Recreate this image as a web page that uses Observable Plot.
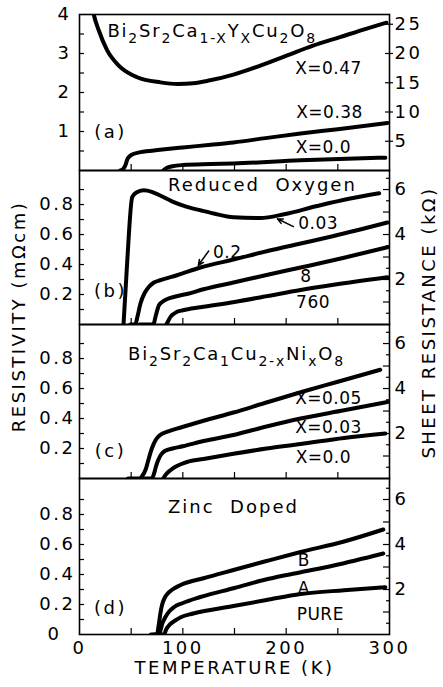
<!DOCTYPE html>
<html><head><meta charset="utf-8">
<script src="https://cdn.jsdelivr.net/npm/d3@7"></script>
<script src="https://cdn.jsdelivr.net/npm/@observablehq/plot@0.6"></script>
<style>
body{margin:0;background:#fff;}
#fig{position:relative;width:443px;height:687px;}
#fig svg{position:absolute;left:0;}
</style></head><body><div id="fig"></div>
<script>
// ---------------- data ----------------
const K = 1 / 0.15; // kΩ sheet resistance per mΩcm resistivity
const temperatureTickLabels = [0, 100, 200, 300];
const temperatureMinorTicks = [50, 100, 150, 200, 250];
const aLeftTicks = [0.5, 1, 1.5, 2, 2.5, 3, 3.5];
const aLeftTickLabels = [1, 2, 3, 4];
const aRightTickLabels = [5, 10, 15, 20, 25];
const leftTicks = [0.1, 0.2, 0.3, 0.4, 0.5, 0.6, 0.7, 0.8, 0.9];
const leftTickLabels = [0.2, 0.4, 0.6, 0.8];
const rightMinorTicks = [0.5, 1.5, 2.5, 3.5, 4.5, 5.5, 6.5];
const rightMajorTicks = [1, 2, 3, 4, 5, 6];
const rightTickLabels = [2, 4, 6];

// (a) Bi2Sr2Ca1-xYxCu2O8
const aNames = ["X=0.47", "X=0.38", "X=0.0"];
const aT047 = [11, 13.8, 18.7, 26.8, 38, 55.8, 78.4, 95, 110, 124, 149, 175, 201, 226, 252, 278, 297];
const aR047 = [4.4, 4.0, 3.59, 3.08, 2.69, 2.39, 2.26, 2.22, 2.24, 2.3, 2.46, 2.69, 2.95, 3.2, 3.42, 3.64, 3.79];
const aT038 = [39.5, 42, 44.5, 46.5, 51, 59, 78, 100, 127, 149, 180, 214, 250, 298];
const aR038 = [0, 0.03, 0.14, 0.3, 0.41, 0.47, 0.53, 0.59, 0.66, 0.72, 0.83, 0.95, 1.06, 1.22];
const aT000 = [81, 84, 90, 100, 127, 149, 214, 296];
const aR000 = [0, 0.06, 0.11, 0.14, 0.165, 0.18, 0.26, 0.33];

// (b) reduced oxygen
const bNames = ["0.03", "0.2", "8", "760"];
const bT003 = [42.6, 46, 51, 55, 62, 70, 78, 90, 104, 118, 130, 149, 175, 198, 230, 262, 290];
const bR003 = [0, 0.4, 0.85, 0.88, 0.895, 0.885, 0.86, 0.82, 0.785, 0.76, 0.74, 0.715, 0.71, 0.735, 0.79, 0.84, 0.875];
const bT02 = [49, 54, 56, 59, 63, 67, 72, 78, 95, 117, 150, 182, 214, 246, 298];
const bR02 = [0, 0, 0.05, 0.14, 0.21, 0.25, 0.28, 0.295, 0.33, 0.38, 0.435, 0.49, 0.54, 0.59, 0.68];
const bT8 = [58, 71.5, 73.5, 76.8, 80, 85, 92, 105, 120, 149, 181, 214, 256, 298];
const bR8 = [0, 0, 0.05, 0.127, 0.15, 0.17, 0.185, 0.205, 0.235, 0.28, 0.33, 0.38, 0.445, 0.515];
const bT760 = [84, 86, 88, 91, 94.5, 100, 117, 150, 182, 214, 246, 298];
const bR760 = [0, 0.025, 0.05, 0.07, 0.085, 0.095, 0.115, 0.15, 0.19, 0.23, 0.265, 0.315];

// (c) Bi2Sr2Ca1Cu2-xNixO8
const cNames = ["X=0.05", "X=0.03", "X=0.0"];
const cT005 = [47, 58, 61, 64, 66.5, 70, 74, 78, 86, 98, 120, 149, 180, 214, 250, 291];
const cR005 = [0, 0, 0.02, 0.06, 0.12, 0.2, 0.26, 0.29, 0.315, 0.34, 0.385, 0.44, 0.505, 0.575, 0.645, 0.725];
const cT003 = [61, 70, 72, 74, 76, 79, 83, 90, 100, 120, 149, 180, 214, 256, 298];
const cR003 = [0, 0, 0.03, 0.08, 0.12, 0.16, 0.185, 0.2, 0.215, 0.25, 0.29, 0.345, 0.4, 0.455, 0.51];
const cT000 = [81, 84, 88, 92, 98, 104, 120, 149, 181, 214, 256, 296];
const cR000 = [0, 0.03, 0.055, 0.075, 0.095, 0.11, 0.13, 0.165, 0.2, 0.23, 0.27, 0.30];

// (d) zinc doped
const dNames = ["B", "A", "PURE"];
const dTB = [69, 75, 76.8, 78.5, 80, 82.5, 85, 90, 98, 120, 149, 181, 214, 256, 294];
const dRB = [0, 0, 0.07, 0.15, 0.2, 0.245, 0.27, 0.3, 0.33, 0.375, 0.43, 0.49, 0.55, 0.62, 0.70];
const dTA = [72, 77, 78.5, 80, 83, 87, 91, 100, 117, 150, 182, 214, 246, 294];
const dRA = [0, 0, 0.03, 0.07, 0.115, 0.155, 0.18, 0.21, 0.25, 0.31, 0.37, 0.415, 0.46, 0.54];
const dTP = [76, 81.6, 84, 88, 93, 98, 110, 149, 181, 214, 256, 296];
const dRP = [0, 0, 0.035, 0.07, 0.095, 0.115, 0.14, 0.19, 0.23, 0.27, 0.295, 0.315];

// annotations (text, anchor temperature, anchor resistivity)
const aNotes = [{text: "X=0.47", T: 241, R: 2.62}, {text: "X=0.38", T: 242, R: 1.49}, {text: "X=0.0", T: 236, R: 0.59}];
const bNotes = [{text: "0.03", T: 231, R: 0.67}, {text: "0.2", T: 143, R: 0.48}, {text: "8", T: 219, R: 0.32}, {text: "760", T: 226, R: 0.147}];
const cNotes = [{text: "X=0.05", T: 241, R: 0.533}, {text: "X=0.03", T: 241, R: 0.34}, {text: "X=0.0", T: 236, R: 0.14}];
const dNotes = [{text: "B", T: 217, R: 0.493}, {text: "A", T: 217, R: 0.307}, {text: "PURE", T: 233, R: 0.133}];
const bArrows = [{T1: 207, R1: 0.653, T2: 191.5, R2: 0.705}, {T1: 125, R1: 0.49, T2: 115, R2: 0.395}];
const panelLetters = ["(a)", "(b)", "(c)", "(d)"];
const aFormula = "Bi_2Sr_2Ca_{1-X}Y_XCu_2O_8";
const cFormula = "Bi_2Sr_2Ca_1Cu_{2-x}Ni_xO_8";
const titleB = "Reduced\u00a0 Oxygen";
const titleD = "Zinc\u00a0 Doped";
const yTitle = "RESISTIVITY (m\u03a9cm)";
const y2Title = "SHEET RESISTANCE (k\u03a9)";
const xTitle = "TEMPERATURE (K)";

// ---------------- drawing ----------------
function rows(names, Ts, Rs) {
  return names.flatMap((n, i) => Ts[i].map((t, j) => ({name: n, T: t, R: Rs[i][j]})));
}
const FONT = "'DejaVu Sans', sans-serif";
const blank = () => "";
const seriesLabelSet = new Set([...aNotes, ...bNotes, ...cNotes, ...dNotes].map(d => d.text));
const titleSet = new Set([titleB, titleD]);

function panel(o) {
  const marks = [
    Plot.axisX({ticks: temperatureMinorTicks, anchor: "bottom", tickSize: 6, dy: -6, tickFormat: blank, label: null, strokeWidth: 1.2}),
    Plot.axisY({ticks: o.leftTicks, anchor: "left", tickSize: 5, dx: 5, tickFormat: blank, label: null, strokeWidth: 1.2}),
    Plot.axisY({ticks: o.leftLabels, anchor: "left", tickSize: 0, tickPadding: o.leftPad, tickFormat: o.leftFormat, label: null}),
    ...o.rightTicks.map(([vals, size, inset]) =>
      Plot.axisY({ticks: vals.map(k => k / K), anchor: "right", tickSize: size, dx: -inset, tickFormat: blank, label: null, strokeWidth: 1.2})),
    Plot.axisY({ticks: o.rightLabels.map(k => k / K), anchor: "right", tickSize: 0, tickPadding: 5, tickFormat: v => String(Math.round(v * K)), label: null}),
    Plot.line(o.rows, {x: "T", y: "R", z: "name", curve: "monotone-x", stroke: "black", strokeWidth: 4, strokeLinejoin: "round", clip: true}),
    Plot.text(o.notes, {x: "T", y: "R", text: "text", fontSize: 17}),
    Plot.text([o.letter], {x: 30, y: o.letterR, text: d => d, fontSize: 18}),
    Plot.frame({strokeWidth: 1.6}),
    ...(o.extra || [])
  ];
  const svg = Plot.plot({
    width: 443, height: o.height,
    marginLeft: 79, marginRight: 54, marginTop: o.marginTop || 0, marginBottom: o.marginBottom || 0,
    x: {domain: [0, 300], label: null},
    y: {domain: o.yDomain, label: null},
    style: {fontFamily: FONT, fontSize: "18px", background: "transparent", overflow: "visible", letterSpacing: "2.5px", color: "black"},
    marks
  });
  svg.style.top = o.top + "px";
  d3.select(svg).selectAll('g[aria-label="text"] text').each(function () {
    const str = this.textContent;
    if (seriesLabelSet.has(str)) { this.style.letterSpacing = "0.5px"; return; }
    if (titleSet.has(str)) { this.style.letterSpacing = "2px"; return; }
    if (!str.includes("_")) return;
    this.style.letterSpacing = "1.8px";
    this.textContent = "";
    const parts = str.split(/(_\{[^}]*\}|_.)/).filter(Boolean);
    let shifted = false;
    for (const p of parts) {
      const t = document.createElementNS("http://www.w3.org/2000/svg", "tspan");
      if (p.startsWith("_")) {
        t.textContent = p.replace(/^_\{?/, "").replace(/\}$/, "");
        t.setAttribute("font-size", "14");
        if (!shifted) t.setAttribute("dy", "6");
        shifted = true;
      } else {
        t.textContent = p;
        if (shifted) t.setAttribute("dy", "-6");
        shifted = false;
      }
      this.appendChild(t);
    }
  });
  document.getElementById("fig").appendChild(svg);
}

const f1 = d3.format(".1f");

panel({
  top: 0, height: 170, marginTop: 14, yDomain: [0, 4],
  leftTicks: aLeftTicks, leftLabels: aLeftTickLabels, leftPad: 8, leftFormat: d => String(d),
  rightTicks: [[aRightTickLabels, 8, 5]], rightLabels: aRightTickLabels,
  rows: rows(aNames, [aT047, aT038, aT000], [aR047, aR038, aR000]),
  notes: aNotes, letter: panelLetters[0], letterR: 0.97,
  extra: [Plot.text([aFormula], {x: 27, y: 3.58, text: d => d, textAnchor: "start", fontSize: 18})]
});

panel({
  top: 170, height: 154, yDomain: [0, 1.027],
  leftTicks, leftLabels: leftTickLabels, leftPad: 4, leftFormat: f1,
  rightTicks: [[rightMinorTicks, 4, 4], [rightMajorTicks, 7, 7]], rightLabels: rightTickLabels,
  rows: rows(bNames, [bT003, bT02, bT8, bT760], [bR003, bR02, bR8, bR760]),
  notes: bNotes, letter: panelLetters[1], letterR: 0.22,
  extra: [
    Plot.arrow(bArrows, {x1: "T1", y1: "R1", x2: "T2", y2: "R2", strokeWidth: 1.5, headLength: 8, headAngle: 50}),
    Plot.text([titleB], {x: 177, y: 0.93, text: d => d, fontSize: 18}),
    Plot.text([yTitle], {frameAnchor: "left", textAnchor: "middle", text: d => d, rotate: -90, dx: -60, dy: 69, fontSize: 18}),
    Plot.text([y2Title], {frameAnchor: "right", textAnchor: "middle", text: d => d, rotate: -90, dx: 40, dy: 75, fontSize: 18})
  ]
});

panel({
  top: 324, height: 154, yDomain: [0, 1.027],
  leftTicks, leftLabels: leftTickLabels, leftPad: 4, leftFormat: f1,
  rightTicks: [[rightMinorTicks, 4, 4], [rightMajorTicks, 7, 7]], rightLabels: rightTickLabels,
  rows: rows(cNames, [cT005, cT003, cT000], [cR005, cR003, cR000]),
  notes: cNotes, letter: panelLetters[2], letterR: 0.18,
  extra: [Plot.text([cFormula], {x: 47, y: 0.83, text: d => d, textAnchor: "start", fontSize: 18})]
});

panel({
  top: 478, height: 209, marginBottom: 53, yDomain: [0, 1.04],
  leftTicks, leftLabels: leftTickLabels, leftPad: 4, leftFormat: f1,
  rightTicks: [[rightMinorTicks, 4, 4], [rightMajorTicks, 7, 7]], rightLabels: rightTickLabels,
  rows: rows(dNames, [dTB, dTA, dTP], [dRB, dRA, dRP]),
  notes: dNotes, letter: panelLetters[3], letterR: 0.173,
  extra: [
    Plot.text([titleD], {x: 149, y: 0.847, text: d => d, fontSize: 18}),
    Plot.axisY({ticks: [0], anchor: "left", tickSize: 0, tickPadding: 18, tickFormat: d => String(d), label: null}),
    Plot.axisX({ticks: temperatureTickLabels, anchor: "bottom", tickSize: 0, tickPadding: 7, tickFormat: d => String(d), label: null}),
    Plot.text([xTitle], {frameAnchor: "bottom", text: d => d, dy: 39, fontSize: 18})
  ]
});
</script></body></html>
